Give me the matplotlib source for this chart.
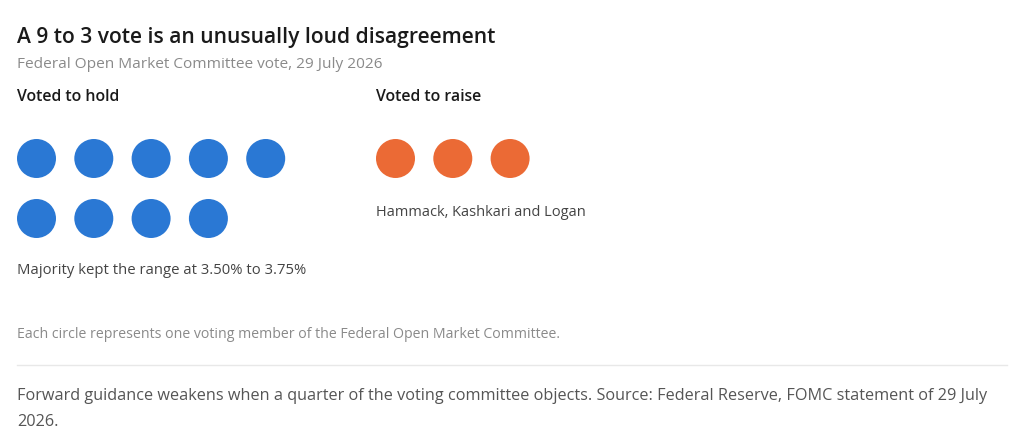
import matplotlib.pyplot as plt
from matplotlib.patches import Circle

# vote data
groups = ["Voted to hold", "Voted to raise"]
votes = [9, 3]
group_notes = ["Majority kept the range at 3.50% to 3.75%", "Hammack, Kashkari and Logan"]
colors = ["#2A78D4", "#EB6A35"]

title = "A 9 to 3 vote is an unusually loud disagreement"
subtitle = "Federal Open Market Committee vote, 29 July 2026"
legend_note = "Each circle represents one voting member of the Federal Open Market Committee."
footer = ("Forward guidance weakens when a quarter of the voting committee objects. "
          "Source: Federal Reserve, FOMC statement of 29 July\n2026.")

plt.rcParams['font.family'] = ['Open Sans', 'DejaVu Sans']

W, H = 1024, 437
fig = plt.figure(figsize=(W / 100, H / 100), dpi=100)
ax = fig.add_axes([0, 0, 1, 1])
ax.set_xlim(0, W)
ax.set_ylim(H, 0)
ax.set_aspect('equal')
ax.axis('off')

ax.text(17, 37, title, fontsize=15.1, fontweight='semibold', color="#1a1a1a", va='center')
ax.text(17, 64, subtitle, fontsize=11.1, color="#8a8a8a", va='center')

# dot grid, 5 per row
per_row = 5
step = 57.3
radius = 19.5
group_x = [17, 376]
for gi, (name, n) in enumerate(zip(groups, votes)):
    x0 = group_x[gi]
    ax.text(x0, 97, name, fontsize=11.4, fontweight='semibold', color="#1a1a1a", va='center')
    for k in range(n):
        r, c = divmod(k, per_row)
        cx = x0 + radius + c * step
        cy = 158.5 + r * 60
        ax.add_patch(Circle((cx, cy), radius, color=colors[gi], lw=0))

ax.text(17, 271, group_notes[0], fontsize=10.7, color="#444444", va='center')
ax.text(376, 212, group_notes[1], fontsize=10.55, color="#444444", va='center')

ax.text(17, 334, legend_note, fontsize=10.2, color="#8a8a8a", va='center')
ax.plot([17, 1007], [365, 365], color="#e8e8e8", lw=1)
ax.text(17, 409, footer, fontsize=11.7, color="#555555", va='center',
        linespacing=1.85)

fig.savefig("out.png", dpi=100)
